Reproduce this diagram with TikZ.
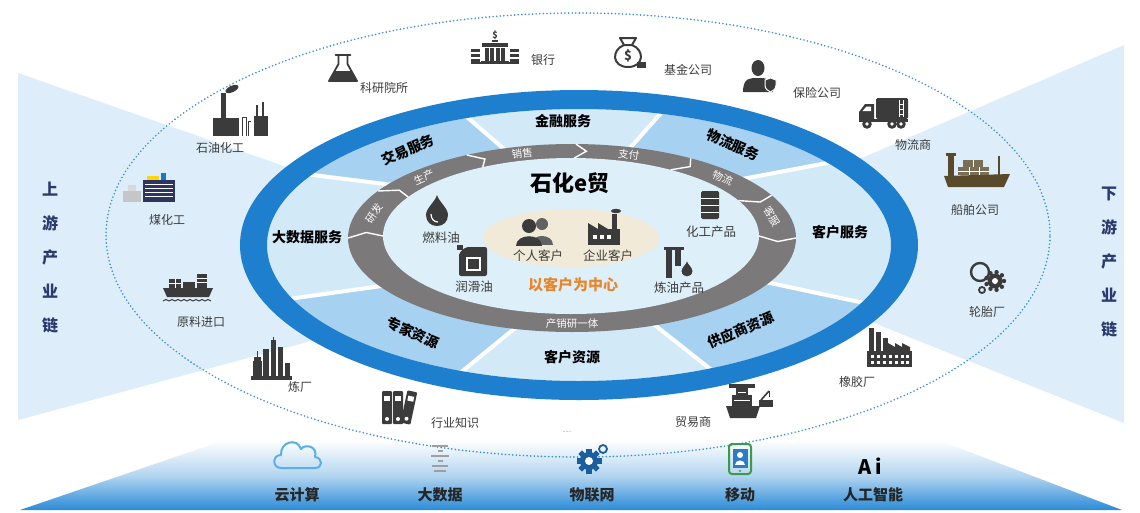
\documentclass[tikz,border=0pt]{standalone}
\usepackage{fontspec}
\setmainfont{Noto Sans CJK SC}
\usetikzlibrary{calc}

\definecolor{wedgec}{HTML}{DDEEFA}
\definecolor{ringblue}{HTML}{1E7FCF}
\definecolor{seclight}{HTML}{D2E9F8}
\definecolor{secmid}{HTML}{A7D1F0}
\definecolor{grayring}{HTML}{7B7979}
\definecolor{corec}{HTML}{DDEFF8}
\definecolor{creamc}{HTML}{F2EAD8}
\definecolor{iconc}{HTML}{3B3B3B}
\definecolor{navyc}{HTML}{2B3A6E}
\definecolor{navyicon}{HTML}{2E3560}
\definecolor{dotblue}{HTML}{3A8EE0}
\definecolor{orangetxt}{HTML}{E8862A}
\definecolor{barblue}{HTML}{2B8BD7}
\definecolor{shipbrown}{HTML}{5A4A2C}
\definecolor{cloudblue}{HTML}{5AB0E6}
\definecolor{gearblue}{HTML}{1B5E9E}
\definecolor{phonegreen}{HTML}{3C9A4A}
\definecolor{screenblue}{HTML}{2D7BC4}

\tikzset{
  sectxt/.style={font=\fontsize{14}{14}\selectfont\bfseries, text=black, inner sep=0pt},
  ringtxt/.style={font=\fontsize{10.5}{11}\selectfont, text=white, inner sep=0pt},
  coretxt/.style={font=\fontsize{12.5}{13}\selectfont, text=iconc, inner sep=0pt},
  outtxt/.style={font=\fontsize{12}{12}\selectfont, text=iconc, inner sep=0pt},
  bartxt/.style={font=\fontsize{15}{15}\selectfont\bfseries, text=black!85, inner sep=0pt},
  sidetxt/.style={font=\fontsize{16}{34}\selectfont\bfseries, text=navyc, inner sep=0pt, align=center},
  % ---- outer ring icons ----
  flaskicon/.pic={
    \fill[iconc] (-8.5,3) -- (-14,13) -- (14,13) -- (8.5,3) -- cycle;
    \draw[iconc, line width=1.8pt, line join=round] (-4.5,-13) -- (-4.5,-4) -- (-14,13) -- (14,13) -- (4.5,-4) -- (4.5,-13);
    \draw[iconc, line width=1.8pt, line cap=round] (-7.5,-13) -- (7.5,-13);
  },
  bankicon/.pic={
    \node[font=\fontsize{9}{9}\selectfont\bfseries, text=iconc, inner sep=0pt] (d) at (0,-17) {\$};
    \fill[iconc] (-3,-12) rectangle (3,-10);
    \fill[iconc] (-13,-9) rectangle (13,-5);
    \foreach \c in {-8.25,-2.75,2.75,8.25} \fill[iconc] (\c-1.8,-4) rectangle (\c+1.8,9);
    \fill[iconc] (-14,9) rectangle (14,12);
    \foreach \yy in {-3,2,7} {\fill[iconc] (-24,\yy) rectangle (-15,\yy+2.6); \fill[iconc] (15,\yy) rectangle (24,\yy+2.6);}
    \fill[iconc] (-24,10) rectangle (24,12);
  },
  moneybag/.pic={
    \draw[iconc, line width=2pt, line join=round] (-4,-8) .. controls (-17,-3) and (-16,14) .. (0,14) .. controls (16,14) and (17,-3) .. (4,-8);
    \draw[iconc, line width=2pt, line join=round] (-4,-8) -- (-8,-15) -- (8,-15) -- (4,-8) -- cycle;
    \node[font=\fontsize{13}{13}\selectfont\bfseries, text=iconc, inner sep=0pt] (d) at (0,3) {\$};
    \fill[iconc] (9,9) rectangle (18,15);
  },
  insurer/.pic={
    \fill[iconc] (0,-9) ellipse [x radius=6.5pt, y radius=8pt];
    \fill[iconc] (-15,15) .. controls (-15,0) and (-7,1) .. (0,1) .. controls (7,1) and (15,0) .. (15,15) -- cycle;
    \fill[iconc, draw=white, line width=1pt] (7,3) -- (12.5,1) -- (18,3) -- (18,8) .. controls (18,12) and (15,14) .. (12.5,15) .. controls (10,14) and (7,12) .. (7,8) -- cycle;
  },
  truckicon/.pic={
    \fill[iconc] (-25,-1) -- (-19,-9) -- (-10,-9) -- (-10,8) -- (-25,8) -- cycle;
    \fill[white] (-21.5,-2) -- (-17.5,-6.5) -- (-13,-6.5) -- (-13,-2) -- cycle;
    \fill[iconc, rounded corners=1.5pt] (-8,-15) rectangle (24,6);
    \draw[white, line width=0.6pt] (15,-13) -- (15,4) (19,-13) -- (19,4) (15,-9) -- (19,-9) (15,-4) -- (19,-4) (15,1) -- (19,1);
    \fill[iconc] (-25,6) rectangle (24,9);
    \foreach \wx in {-17,8,17} {\fill[iconc] (\wx,11) circle (4.8pt); \fill[white] (\wx,11) circle (1.8pt);}
  },
  cargoship/.pic={
    \fill[shipbrown] (-33,6) -- (33,4) -- (27,17) -- (-29,17) -- cycle;
    \fill[shipbrown] (-29,-14) rectangle (-23,6);
    \fill[shipbrown] (-31,-17) rectangle (-21,-14);
    \fill[shipbrown!80!white] (-19,-3) rectangle (12,5);
    \fill[shipbrown!80!white] (-14,-10) rectangle (6,-3);
    \draw[white, line width=0.6pt] (-19,1) -- (12,1) (-8,-3) -- (-8,5) (2,-3) -- (2,5) (-4,-10) -- (-4,-3);
    \draw[shipbrown, line width=1.6pt] (22,-14) -- (22,5);
  },
  gearsicon/.pic={
    \draw[iconc, line width=2.4pt] (-6,-5) circle (9pt);
    \foreach \a in {0,40,...,320} \fill[iconc] ($(9,4)+(\a:9pt)$) circle (2.2pt);
    \fill[iconc] (9,4) circle (7.5pt);
    \fill[white] (9,4) circle (3pt);
    \draw[iconc, line width=1.8pt] (-4,13) circle (3pt);
  },
  rubberfactory/.pic={
    \fill[iconc] (-20,-19) rectangle (-15,6);
    \fill[iconc] (-13,-15) rectangle (-8,6);
    \fill[iconc] (-6,-9) rectangle (-1,6);
    \fill[iconc] (-1,4) -- (-1,-4) -- (6,0) -- (6,-4) -- (13,0) -- (13,-4) -- (21,0) -- (21,4) -- cycle;
    \fill[iconc] (-22,4) rectangle (23,20);
    \foreach \wx in {-18,-12,-6,0,6,12,17} {\fill[white] (\wx,8) rectangle (\wx+3,11); \fill[white] (\wx,14) rectangle (\wx+3,17);}
  },
  tradeship/.pic={
    \fill[iconc] (-22,5) -- (12,5) -- (8,17) -- (-18,17) -- cycle;
    \fill[iconc] (-16,-6) rectangle (4,5);
    \fill[iconc] (-12,-13) rectangle (0,-6);
    \fill[iconc] (-19,-17) rectangle (7,-13);
    \draw[white, line width=0.8pt] (-14,-1) -- (2,-1) (-10,-9) -- (-2,-9);
    \fill[iconc] (11,-1) rectangle (25,6);
    \draw[iconc, line width=1.6pt] (13,-1) -- (21,-10);
    \draw[iconc, line width=1pt] (21,-10) -- (21,-4);
  },
  binders/.pic={
    \foreach \bx in {-16,-5} {\fill[iconc, rounded corners=1pt] (\bx,-16) rectangle (\bx+10,17); \fill[white] (\bx+2,-11) rectangle (\bx+8,-6); \fill[white] (\bx+5,12) circle (2pt);}
    \begin{scope}[shift={(11,0)}, rotate=-12]
      \fill[iconc, rounded corners=1pt] (-5,-16) rectangle (5,17);
      \fill[white] (-3,-11) rectangle (3,-6);
      \fill[white] (0,12) circle (2pt);
    \end{scope}
  },
  refineryicon/.pic={
    \fill[iconc] (-18,0) rectangle (-9,18);
    \fill[iconc] (-8,-12) rectangle (-2,18);
    \fill[iconc] (0,-21) rectangle (5,18);
    \fill[iconc] (7,-14) rectangle (12,18);
    \fill[iconc] (14,2) rectangle (19,18);
    \fill[iconc] (-17,-4) rectangle (-10,0);
    \draw[iconc, line width=0.8pt] (-14,-4) -- (-14,-10) (2.5,-21) -- (2.5,-24);
    \fill[iconc] (-20,15) rectangle (21,19);
  },
  importship/.pic={
    \fill[iconc] (-25,1) -- (25,1) -- (21,10) -- (-21,10) -- cycle;
    \fill[iconc] (-19,-8) rectangle (-7,1);
    \fill[iconc] (-5,-5) rectangle (7,1);
    \fill[iconc] (9,-13) rectangle (19,1);
    \draw[white, line width=0.6pt] (-19,-4) -- (-7,-4) (-13,-8) -- (-13,1) (9,-9) -- (19,-9) (9,-5) -- (19,-5);
    \foreach \wx in {-25,-19,...,19} \draw[iconc, line width=1.1pt] (\wx,14) .. controls (\wx+2,12) and (\wx+4,12) .. (\wx+6,14);
  },
  coalchem/.pic={
    \fill[gray!45] (-30,3) rectangle (-12,14);
    \fill[gray!30] (-25,-3) rectangle (-17,3);
    \fill[navyicon] (-10,-8) rectangle (22,14);
    \foreach \yy in {-4,0,4,8} \draw[white, line width=0.9pt] (-8,\yy) -- (20,\yy);
    \fill[yellow!75!orange] (-6,-12) rectangle (6,-8);
    \fill[cyan!60!blue] (8,-15) rectangle (13,-8);
  },
  petrochem/.pic={
    \fill[iconc] (-32,3) rectangle (-6,21);
    \fill[iconc] (-24,-22) rectangle (-19,3);
    \fill[iconc, rotate around={25:(-13,-26)}] (-13,-26) ellipse [x radius=7pt, y radius=3.2pt];
    \draw[iconc, line width=1pt] (-3,21) -- (-3,2) -- (1,2) -- (1,21) (3,21) -- (3,6) -- (6,6);
    \fill[iconc] (9,1) rectangle (23,21);
    \fill[iconc] (11,-10) rectangle (13,1);
    \fill[iconc] (17,-13) rectangle (19,1);
  },
  % ---- core icons ----
  dropicon/.pic={
    \fill[iconc] (0,-15) .. controls (2,-8) and (11,-2) .. (11,5) .. controls (11,12) and (6,16) .. (0,16) .. controls (-6,16) and (-11,12) .. (-11,5) .. controls (-11,-2) and (-2,-8) .. (0,-15) -- cycle;
    \draw[white, line width=1.2pt] (-6,4) .. controls (-6,9) and (-3,12) .. (1,12);
  },
  jerrycan/.pic={
    \fill[iconc, rounded corners=2pt] (-14,-9) -- (-7,-15) -- (14,-15) -- (14,14) -- (-14,14) -- cycle;
    \fill[iconc] (-16,-17) rectangle (-10,-12);
    \draw[white, line width=1.6pt] (-6,-4) rectangle (7,8);
  },
  peopleicon/.pic={
    \fill[iconc!80] (7,-8) circle (6pt);
    \fill[iconc!80] (-4,13) .. controls (-4,1) and (18,1) .. (18,13) -- cycle;
    \fill[iconc] (-6,-6) circle (7pt);
    \fill[iconc] (-19,14) .. controls (-19,1) and (7,1) .. (7,14) -- cycle;
  },
  planticon/.pic={
    \fill[iconc] (-16,0) rectangle (16,16);
    \fill[iconc] (-16,0) -- (-16,-6) -- (-6,0) -- (-6,-6) -- (4,0) -- cycle;
    \fill[iconc] (8,-15) rectangle (13,0);
    \fill[iconc] (12,-18) ellipse [x radius=5pt, y radius=2.2pt];
    \foreach \wx in {-11,-4,3} \fill[white] (\wx,6) rectangle (\wx+4,10);
  },
  barrelicon/.pic={
    \fill[iconc, rounded corners=1.5pt] (-9,-14) rectangle (9,14);
    \foreach \yy in {-7,0,7} \draw[white, line width=1pt] (-9,\yy) -- (9,\yy);
  },
  oilprod/.pic={
    \fill[iconc] (-15,-15) rectangle (5,-12);
    \fill[iconc] (-13,-12) rectangle (-7,16);
    \fill[iconc] (-4,-12) rectangle (2,4);
    \fill[iconc, draw=corec, line width=1pt] (8,-2) .. controls (9,2) and (14,5) .. (14,9) .. controls (14,13) and (11,15) .. (8,15) .. controls (5,15) and (2,13) .. (2,9) .. controls (2,5) and (7,2) .. (8,-2) -- cycle;
  },
  % ---- platform icons ----
  cloudicon/.pic={
    \draw[cloudblue, line width=2pt, line join=round] (-17,12) .. controls (-26,12) and (-26,-1) .. (-17,-1) .. controls (-18,-14) and (-1,-19) .. (3,-7) .. controls (8,-13) and (20,-9) .. (17,1) .. controls (25,2) and (25,12) .. (17,12) -- cycle;
  },
  datalines/.pic={
    \foreach \yy/\w in {-14/8,-9/2.5,-4/9,1/2.5,6/8,11/6} \draw[gray!75, line width=1.2pt] (-\w,\yy) -- (\w,\yy);
  },
  iotgear/.pic={
    \foreach \a in {0,45,...,315} \fill[gearblue, rotate=\a] (-2.6,-12.5) rectangle (2.6,-7);
    \fill[gearblue] (0,0) circle (9pt);
    \fill[white] (0,0) circle (4pt);
    \draw[gearblue, line width=1.8pt] (14,-12) circle (4pt);
  },
  phoneicon/.pic={
    \draw[phonegreen, line width=2pt, rounded corners=3pt] (-11,-15) rectangle (11,15);
    \fill[screenblue] (-7.5,-10) rectangle (7.5,9);
    \fill[white] (0,-4) circle (3pt);
    \fill[white] (-5,6) .. controls (-5,0) and (5,0) .. (5,6) -- cycle;
    \fill[phonegreen] (0,12) circle (1.2pt);
  }
}

\begin{document}
\begin{tikzpicture}[x=1pt,y=-1pt]
\useasboundingbox (0,0) rectangle (1140,512);
\fill[white] (0,0) rectangle (1140,512);

% upstream / downstream wedges
\fill[wedgec] (18,73) -- (578,269) -- (18,420) -- cycle;
\fill[wedgec] (1124,45) -- (669,241) -- (1124,423) -- cycle;

% technology platform
\shade[top color=white, bottom color=barblue, middle color=barblue!35!white] (225,440) -- (938,440) -- (1122,510) -- (20,510) -- cycle;

% partner ecosystem boundary
\draw[dotblue, line width=1.8pt, line cap=round, dash pattern=on 0pt off 3.6pt] (578,235) ellipse [x radius=472pt, y radius=222pt];

% service sectors
\begin{scope}
  \clip (579,245) ellipse [x radius=312pt, y radius=136pt];
  \fill[seclight] (0,0) rectangle (1140,512);
  \fill[secmid] (393,185) -- (153,155) -- (407,65) -- (527,169) -- cycle;
  \fill[secmid] (601,181) -- (721,45) -- (975,135) -- (679,191) -- cycle;
  \fill[secmid] (690,266) -- (1010,334) -- (775,420) -- (623,300) -- cycle;
  \fill[secmid] (542,306) -- (410,414) -- (153,318) -- (403,283) -- cycle;
  \draw[white, line width=4pt]
    (527,169) -- (407,65)  (601,181) -- (721,45)
    (679,191) -- (975,135) (690,266) -- (1010,334)
    (623,300) -- (775,420) (542,306) -- (410,414)
    (403,283) -- (153,318) (393,185) -- (153,155);
\end{scope}

% blue ring
\fill[ringblue, even odd rule] (579,245) ellipse [x radius=339pt, y radius=155pt] (579,245) ellipse [x radius=312pt, y radius=136pt];

% value chain ring
\fill[grayring] (572,238) ellipse [x radius=224pt, y radius=94pt];
\fill[corec] (571,236) ellipse [x radius=188pt, y radius=78pt];
\foreach \t in {180,150,118,89,58,27,0}
  \draw[white, line width=1.4pt, line join=miter]
    ({572+224*cos(\t)},{238-94*sin(\t)}) -- ({572+206*cos(\t-3)},{237-86*sin(\t-3)}) -- ({571+188*cos(\t)},{236-78*sin(\t)});
\foreach \t/\s in {164/研发,136/生产,104/销售,74/支付,43/物流,14/客服}
  \node[ringtxt, rotate={atan2(-86*cos(\t),206*sin(\t))}] (rl\t) at ({572+206*cos(\t)},{237-86*sin(\t)}) {\s};
\node[ringtxt] (cxyt) at (572,324) {产销研一体};

% customer core
\fill[creamc] (571,238) ellipse [x radius=88pt, y radius=29pt];
\node[font=\fontsize{22}{22}\selectfont\bfseries, text=black, inner sep=0pt] (title) at (570,183) {石化e贸};
\node[font=\fontsize{15}{15}\selectfont\bfseries, text=orangetxt, inner sep=0pt] (center) at (573,285) {以客户为中心};

\pic (fuel) at (437,210) {dropicon};
\node[coretxt] (fuell) at (441,238) {燃料油};
\pic (lube) at (473,262) {jerrycan};
\node[coretxt] (lubel) at (474,287) {润滑油};
\pic (pers) at (535,232) {peopleicon};
\node[coretxt] (persl) at (538,256) {个人客户};
\pic (ent) at (604,229) {planticon};
\node[coretxt] (entl) at (608,256) {企业客户};
\pic (chem) at (710,205) {barrelicon};
\node[coretxt] (cheml) at (711,232) {化工产品};
\pic (oil) at (679,262) {oilprod};
\node[coretxt] (oill) at (679,288) {炼油产品};

% service labels
\node[sectxt, rotate=23] (s1) at (408,150) {交易服务};
\node[sectxt] (s2) at (563,121) {金融服务};
\node[sectxt, rotate=-23] (s3) at (733,145) {物流服务};
\node[sectxt] (s4) at (840,232) {客户服务};
\node[sectxt, rotate=23] (s5) at (741,330) {供应商资源};
\node[sectxt] (s6) at (572,357) {客户资源};
\node[sectxt, rotate=-23] (s7) at (413,333) {专家资源};
\node[sectxt] (s8) at (307,237) {大数据服务};

% ecosystem partners
\pic (lab) at (343,68) {flaskicon};
\node[outtxt] (labl) at (384,88) {科研院所};
\pic (bank) at (495,52) {bankicon};
\node[outtxt] (bankl) at (543,60) {银行};
\pic (fund) at (628,53) {moneybag};
\node[outtxt] (fundl) at (688,70) {基金公司};
\pic (ins) at (758,77) {insurer};
\node[outtxt] (insl) at (817,93) {保险公司};
\pic (log) at (884,113) {truckicon};
\node[outtxt] (logl) at (913,145) {物流商};
\pic (shipco) at (977,170) {cargoship};
\node[outtxt] (shipcol) at (975,210) {船舶公司};
\pic (tyre) at (986,277) {gearsicon};
\node[outtxt] (tyrel) at (987,312) {轮胎厂};
\pic (rubber) at (889,347) {rubberfactory};
\node[outtxt] (rubberl) at (857,382) {橡胶厂};
\pic (trade) at (748,401) {tradeship};
\node[outtxt] (tradel) at (693,422) {贸易商};
\node[font=\fontsize{5}{5}\selectfont, text=iconc, inner sep=0pt] (more) at (567,432) {......};
\pic (know) at (398,407) {binders};
\node[outtxt] (knowl) at (455,423) {行业知识};
\pic (refin) at (271,361) {refineryicon};
\node[outtxt] (refinl) at (300,387) {炼厂};
\pic (imp) at (188,287) {importship};
\node[outtxt] (impl) at (201,322) {原料进口};
\pic (coal) at (153,188) {coalchem};
\node[outtxt] (coall) at (167,220) {煤化工};
\pic (petro) at (245,115) {petrochem};
\node[outtxt] (petrol) at (220,148) {石油化工};

% chain labels
\node[sidetxt] (up) at (50,258) {上\\游\\产\\业\\链};
\node[sidetxt] (down) at (1109,262) {下\\游\\产\\业\\链};

% platform technologies
\pic (cloud) at (298,456) {cloudicon};
\node[bartxt] (cloudl) at (297,495) {云计算};
\pic (data) at (440,460) {datalines};
\node[bartxt] (datal) at (440,495) {大数据};
\pic (iot) at (589,461) {iotgear};
\node[bartxt] (iotl) at (592,495) {物联网};
\pic (mob) at (740,459) {phoneicon};
\node[bartxt] (mobl) at (740,495) {移动};
\node[font=\fontsize{20}{20}\selectfont\bfseries, text=black, inner sep=0pt] (ai) at (870,466) {A\,i};
\node[bartxt] (ail) at (873,495) {人工智能};
\end{tikzpicture}
\end{document}
